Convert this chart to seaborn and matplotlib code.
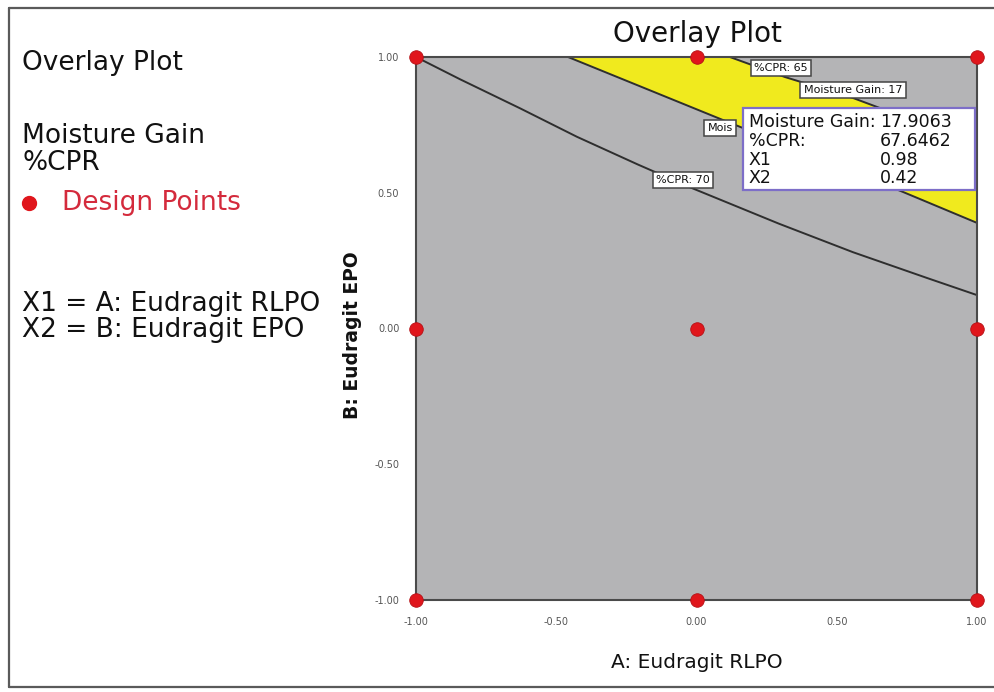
import numpy as np
import pandas as pd
import seaborn as sns
import matplotlib.pyplot as plt
from matplotlib.lines import Line2D
from matplotlib.patches import Rectangle

# design points (coded levels)
design_x = [-1, 0, 1, -1, 0, 1, -1, 0, 1]
design_y = [-1, -1, -1, 0, 0, 0, 1, 1, 1]

# %CPR 70 contour
cpr70_x = [-1.0, -0.843, -0.629, -0.426, -0.209, -0.023, 0.294, 0.558, 0.822, 1.0]
cpr70_y = [1.0, 0.918, 0.811, 0.706, 0.604, 0.520, 0.386, 0.281, 0.186, 0.123]

# lower edge of the yellow window (moisture gain contour)
mg_x = [-0.458, 0.094, 0.736, 1.0]
mg_y = [1.0, 0.768, 0.503, 0.389]

# upper edge of the yellow window (%CPR 65 contour)
cpr65_x = [0.119, 0.316, 0.558, 0.654, 1.0]
cpr65_y = [1.0, 0.926, 0.849, 0.812, 0.668]

ticks = [-1.0, -0.5, 0.0, 0.5, 1.0]
tick_labels = ['-1.00', '-0.50', '0.00', '0.50', '1.00']

# flag point shown in the tooltip
flag_rows = ['Moisture Gain:', '%CPR:', 'X1', 'X2']
flag_vals = ['17.9063', '67.6462', '0.98', '0.42']

legend_lines = ['Moisture Gain', '%CPR']
factor_lines = ['X1 = A: Eudragit RLPO', 'X2 = B: Eudragit EPO']

sns.set_style('white')
plt.rcParams['font.family'] = ['DejaVu Sans']
plt.rcParams['text.color'] = '#111111'
plt.rcParams['axes.labelcolor'] = '#111111'

W, H = 994, 692
fig = plt.figure(figsize=(W / 100, H / 100), dpi=100)
ax = fig.add_axes([416 / W, 1 - 600 / H, 561 / W, 543 / H])
ax.set_facecolor('#b4b4b6')

# yellow feasible window between the two contours
poly_x = mg_x + cpr65_x[::-1]
poly_y = mg_y + cpr65_y[::-1]
ax.fill(poly_x, poly_y, color='#f0ea1e', zorder=1, lw=0)

line_col = '#2e2e2e'
for xs, ys in [(cpr70_x, cpr70_y), (mg_x, mg_y), (cpr65_x, cpr65_y)]:
    sns.lineplot(x=xs, y=ys, sort=False, color=line_col, lw=1.4, ax=ax, zorder=2)

# contour labels
lab_box = dict(boxstyle='square,pad=0.3', fc='white', ec='#444444', lw=1.1)
ax.text(0.302, 0.959, '%CPR: 65', fontsize=8, ha='center', va='center', bbox=lab_box, zorder=4)
ax.text(0.558, 0.878, 'Moisture Gain: 17', fontsize=8, ha='center', va='center', bbox=lab_box, zorder=4)
ax.text(0.085, 0.738, 'Mois', fontsize=8, ha='center', va='center', bbox=lab_box, zorder=4)
ax.text(-0.048, 0.547, '%CPR: 70', fontsize=8, ha='center', va='center', bbox=lab_box, zorder=4)

# tooltip
ax.add_patch(Rectangle((0.166, 0.510), 0.827, 0.302, facecolor='white',
                       edgecolor='#7d6ec8', lw=1.6, zorder=6))
row_y = [0.761, 0.690, 0.620, 0.554]
for name, val, yy in zip(flag_rows, flag_vals, row_y):
    ax.text(0.187, yy, name, fontsize=12.5, va='center', ha='left', zorder=7)
    ax.text(0.654, yy, val, fontsize=12.5, va='center', ha='left', zorder=7)

sns.scatterplot(x=design_x, y=design_y, color='#e0161c', edgecolor='#b50f14',
                s=95, linewidth=0.6, ax=ax, zorder=10, clip_on=False)

ax.set_xlim(-1, 1)
ax.set_ylim(-1, 1)
ax.set_xticks(ticks)
ax.set_xticklabels(tick_labels)
ax.set_yticks(ticks)
ax.set_yticklabels(tick_labels)
ax.tick_params(axis='both', direction='out', length=8, width=1, color='#555555',
               labelsize=7, labelcolor='#555555', pad=4)
for sp in ax.spines.values():
    sp.set_color('#4a4a4a')
    sp.set_linewidth(1.5)

ax.set_xlabel('A: Eudragit RLPO', fontsize=14.5, va='center')
ax.xaxis.set_label_coords(0.5, (600 - 663) / 543)
ax.set_ylabel('B: Eudragit EPO', fontsize=13.5, fontweight='bold', va='center')
ax.yaxis.set_label_coords((352 - 416) / 561, (600 - 335) / 543)

# title and left-hand legend text
fig.text(697 / W, 1 - 34 / H, 'Overlay Plot', fontsize=20, ha='center', va='center')
fig.text(22 / W, 1 - 63 / H, 'Overlay Plot', fontsize=19, ha='left', va='center')
for txt, yy in zip(legend_lines, [136, 163]):
    fig.text(22 / W, 1 - yy / H, txt, fontsize=19, ha='left', va='center')
fig.add_artist(Line2D([29 / W], [1 - 203 / H], marker='o', ms=10, color='#e0161c',
                      transform=fig.transFigure))
fig.text(62 / W, 1 - 203 / H, 'Design Points', fontsize=19, color='#d42a3c', ha='left', va='center')
for txt, yy in zip(factor_lines, [304, 330]):
    fig.text(22 / W, 1 - yy / H, txt, fontsize=19, ha='left', va='center')

# outer frame (left, top, bottom)
fr = dict(transform=fig.transFigure, color='#5a5a5a', lw=1.6)
fig.add_artist(Line2D([9 / W, 9 / W], [1 - 8 / H, 1 - 687 / H], **fr))
fig.add_artist(Line2D([9 / W, 1], [1 - 8 / H, 1 - 8 / H], **fr))
fig.add_artist(Line2D([9 / W, 1], [1 - 687 / H, 1 - 687 / H], **fr))

fig.savefig('out.png', dpi=100)
